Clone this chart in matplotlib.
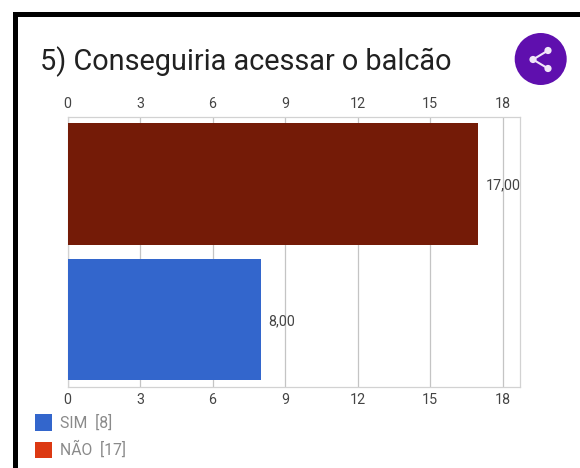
import matplotlib
matplotlib.use("Agg")
import matplotlib.pyplot as plt
from matplotlib.patches import Rectangle, Circle

plt.rcParams['font.family'] = ['Roboto', 'DejaVu Sans']

W, H = 580, 468

categories = ["SIM", "NÃO"]
values = [8, 17]
value_labels = ["8,00", "17,00"]
bar_colors = ["#3366cc", "#741b07"]
legend_colors = ["#3366cc", "#dc3912"]
legend_labels = ["SIM  [8]", "NÃO  [17]"]
x_ticks = [0, 3, 6, 9, 12, 15, 18]

fig = plt.figure(figsize=(W / 100, H / 100), dpi=100, facecolor="white")


# overlay in image pixels, y going down
bg = fig.add_axes([0, 0, 1, 1])
bg.set_xlim(0, W)
bg.set_ylim(H, 0)
bg.axis("off")

# black frame of the screenshot
bg.add_patch(Rectangle((12.5, 11.5), W, 5.5, color="black", lw=0))
bg.add_patch(Rectangle((12.5, 11.5), 5.5, H, color="black", lw=0))

bg.text(40, 70, "5) Conseguiria acessar o balcão", fontsize=20.8, color="#212121", va="baseline")

# share button
bg.add_patch(Circle((540.7, 59), 26, color="#5f0fae", lw=0))
nodes = [(548, 50.5), (533, 59.5), (548, 68.5)]
bg.plot([n[0] for n in nodes], [n[1] for n in nodes], color="#f0e6f8", lw=1.5)
for n in nodes:
    bg.add_patch(Circle(n, 3.6, color="#f0e6f8", lw=0))

# chart
left, right, top, bottom = 67.5, 520.3, 116.5, 387
ax = fig.add_axes([left / W, 1 - bottom / H, (right - left) / W, (bottom - top) / H])
ax.patch.set_alpha(0)
ax.barh(range(len(values)), values, height=0.9, color=bar_colors, zorder=3)
ax.set_xlim(0, 18.73)
ax.set_ylim(-0.5, 1.5)
ax.set_yticks([])
ax.set_xticks(x_ticks)
ax.tick_params(axis="x", top=True, labeltop=True, bottom=True, labelbottom=True,
               length=0, pad=4, labelsize=10.3, labelcolor="#444444")
ax.grid(axis="x", color="#c4c4c4", lw=0.9, zorder=1)
for s in ax.spines.values():
    s.set_color("#d2d2d2")
    s.set_linewidth(0.9)

for i, v in enumerate(values):
    ax.annotate(value_labels[i], (v, i), xytext=(7.5, -1.5), textcoords="offset pixels",
                va="center", ha="left", fontsize=10.3, color="#444444", zorder=4)

# legend
handles = [Rectangle((0, 0), 1, 1, color=c, lw=0) for c in legend_colors]
leg = fig.legend(handles, legend_labels, loc="upper left", bbox_to_anchor=(35 / W, 1 - 414.5 / H),
                 frameon=False, fontsize=11.3, labelcolor="#8a8a8a", handlelength=1.1, handleheight=1.25,
                 handletextpad=0.5, labelspacing=0.62, borderpad=0, borderaxespad=0)

fig.savefig("out.png", dpi=100, facecolor="white")
